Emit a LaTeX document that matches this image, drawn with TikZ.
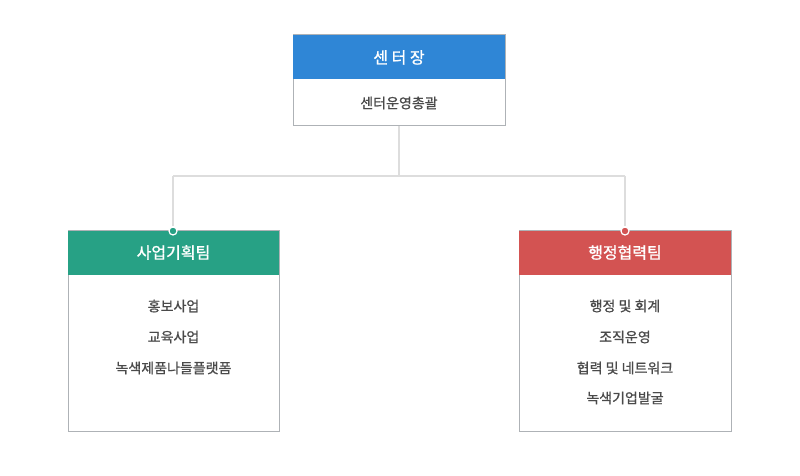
\documentclass[tikz,border=0pt]{standalone}
\usepackage{fontspec}
\newfontfamily\krhead[FakeBold=1.2]{Noto Sans CJK KR}
\newfontfamily\kritem[FakeBold=0.9]{Noto Sans CJK KR}
\definecolor{hblue}{HTML}{2F86D6}
\definecolor{hgreen}{HTML}{27A185}
\definecolor{hred}{HTML}{D35352}
\definecolor{bgray}{HTML}{AEB2B6}
\definecolor{lgray}{HTML}{DDDDDD}
\definecolor{tgray}{HTML}{4A4A4A}
\begin{document}
\begin{tikzpicture}[x=1pt,y=1pt,
  boxframe/.style={draw=bgray,line width=1pt,fill=white},
  headtxt/.style={text=white,font=\krhead\fontsize{16}{19}\selectfont,inner sep=0pt},
  itemtxt/.style={text=tgray,font=\kritem\fontsize{14}{17}\selectfont,inner sep=0pt},
  link/.style={draw=lgray,line width=2pt},
  dot/.style={circle,draw=white,line width=1.2pt,minimum size=8pt,inner sep=0pt}]
\useasboundingbox (0,0) rectangle (800,-476);
% top box
\draw[boxframe] (293,-35) rectangle (505,-126);
\fill[hblue] (293,-35) rectangle (505,-79.5);
\node[headtxt] (ceo) at (399,-57.5) {센 터 장};
\node[itemtxt] (ceoitem) at (399,-103) {센터운영총괄};
\coordinate (top) at (399,-126);
% left box
\draw[boxframe] (68,-230.5) rectangle (279,-431);
\fill[hgreen] (68,-230.5) rectangle (279,-275);
\node[headtxt] (lhead) at (173.5,-252.5) {사업기획팀};
\node[itemtxt] (l1) at (173.5,-306) {홍보사업};
\node[itemtxt] (l2) at (173.5,-337) {교육사업};
\node[itemtxt] (l3) at (173.5,-368) {녹색제품나들플랫폼};
% right box
\draw[boxframe] (519,-230.5) rectangle (731,-431);
\fill[hred] (519,-230.5) rectangle (731,-275);
\node[headtxt] (rhead) at (625,-252.5) {행정협력팀};
\node[itemtxt] (r1) at (625,-306) {행정 및 회계};
\node[itemtxt] (r2) at (625,-337) {조직운영};
\node[itemtxt] (r3) at (625,-368) {협력 및 네트워크};
\node[itemtxt] (r4) at (625,-398) {녹색기업발굴};
% connectors
\coordinate (mid) at (399,-175.5);
\coordinate (ljoin) at (173,-175.5);
\coordinate (rjoin) at (625,-175.5);
\node[dot,fill=hgreen] (ldot) at (173,-231) {};
\node[dot,fill=hred] (rdot) at (625,-231) {};
\draw[link] (top) -- (mid);
\draw[link] (ljoin) -- (rjoin);
\draw[link] (ljoin) -- (ldot.north);
\draw[link] (rjoin) -- (rdot.north);
\end{tikzpicture}
\end{document}
